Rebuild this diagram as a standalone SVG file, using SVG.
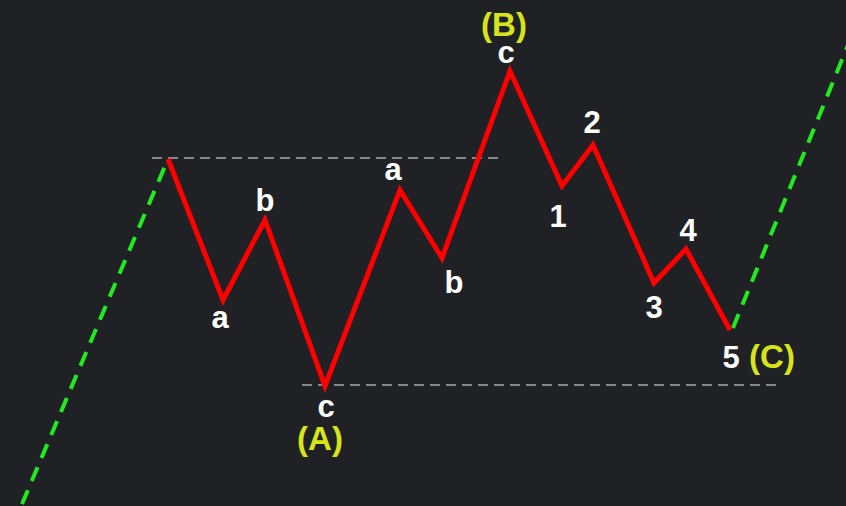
<svg xmlns="http://www.w3.org/2000/svg" width="846" height="506" viewBox="0 0 846 506">
<style>
.lbl{font-family:"Liberation Sans",Arial,sans-serif;font-weight:bold;font-size:31px;fill:#ffffff;text-anchor:middle}
.wave{font-family:"Liberation Sans",Arial,sans-serif;font-weight:bold;font-size:33px;fill:#d6e41c;text-anchor:middle}
.ref{stroke:#a8a8a8;stroke-width:1.5;stroke-dasharray:10 6;fill:none}
.trend{stroke:#22ea22;stroke-width:4;stroke-dasharray:15 10;fill:none}
.price{stroke:#ff0000;stroke-width:5;fill:none;stroke-linejoin:miter;stroke-miterlimit:10}
</style>
<rect width="846" height="506" fill="#1f2125"/>
<g id="connectors">
<line class="ref" x1="152" y1="158" x2="502" y2="158"/>
<line class="ref" x1="302" y1="385" x2="780" y2="385"/>
<line class="trend" x1="22" y1="504" x2="168" y2="159"/>
<line class="trend" x1="733" y1="328" x2="850" y2="40"/>
<polyline class="price" points="168,159 223,300 265,220 325,386 400,190 442,258 510,71 562,186 593,145 654,283 686,249 730,330"/>
</g>
<g id="label-a1"><text class="lbl" x="220" y="328">a</text></g>
<g id="label-b1"><text class="lbl" x="265" y="211">b</text></g>
<g id="label-c1"><text class="lbl" x="326" y="417">c</text></g>
<g id="label-A"><text class="wave" x="320" y="450">(A)</text></g>
<g id="label-a2"><text class="lbl" x="393" y="180">a</text></g>
<g id="label-b2"><text class="lbl" x="454" y="293">b</text></g>
<g id="label-c2"><text class="lbl" x="506" y="63">c</text></g>
<g id="label-B"><text class="wave" x="504" y="36">(B)</text></g>
<g id="label-1"><text class="lbl" x="558" y="227">1</text></g>
<g id="label-2"><text class="lbl" x="592" y="133">2</text></g>
<g id="label-3"><text class="lbl" x="654" y="318">3</text></g>
<g id="label-4"><text class="lbl" x="688" y="241">4</text></g>
<g id="label-5"><text class="lbl" x="731" y="368">5</text></g>
<g id="label-C"><text class="wave" x="772" y="368">(C)</text></g>
</svg>
